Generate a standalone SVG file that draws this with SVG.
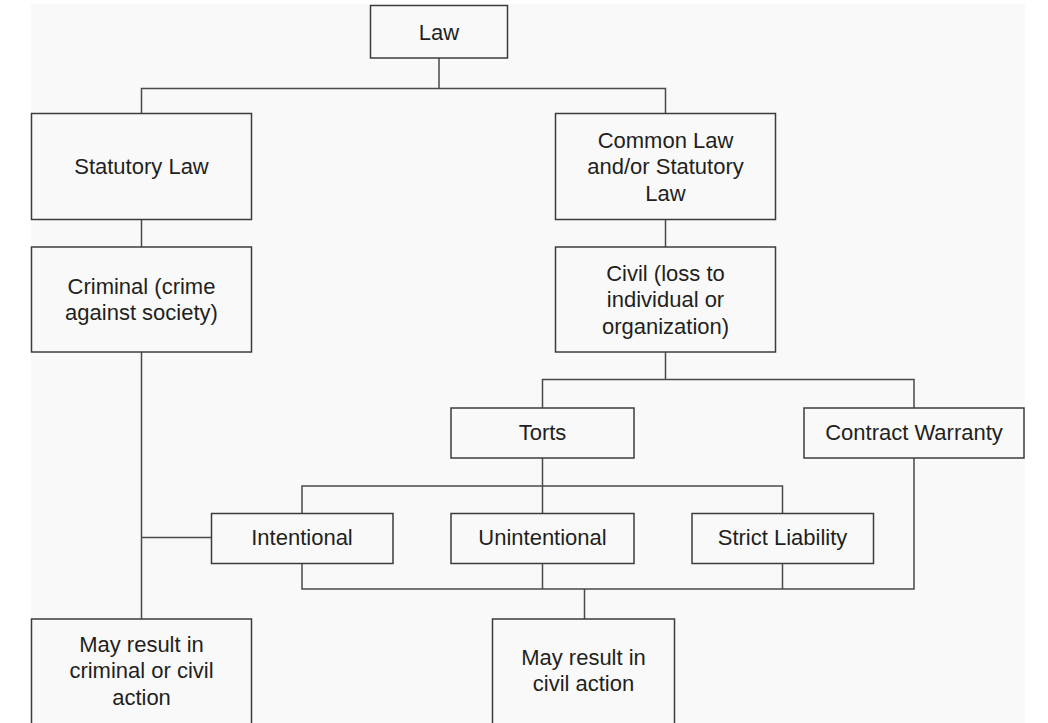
<svg xmlns="http://www.w3.org/2000/svg" width="1048" height="723" viewBox="0 0 1048 723">
<style>
.box{fill:#f9f9f9;stroke:#3c3c3c;stroke-width:1.5}
.lbl{font-family:"Liberation Sans",Arial,sans-serif;font-size:22px;fill:#231f20;text-anchor:middle}
.con{fill:none;stroke:#4a4a4a;stroke-width:1.5}
</style>
<rect x="0" y="0" width="1048" height="723" fill="#ffffff"/>
<rect x="31" y="4" width="994" height="719" fill="#f9f9f9"/>
<g id="connectors" class="con">
<path d="M439,58 V88.5 M141.5,113.5 V88.5 H665.5 V113.5"/>
<path d="M141.5,219.5 V247"/>
<path d="M665.5,219.5 V247"/>
<path d="M665.5,352 V379.5 M542.5,408 V379.5 H914 V408"/>
<path d="M542.5,458 V486 M302,513.5 V486 H782.5 V513.5 M542.5,486 V513.5"/>
<path d="M302,563.5 V589 H914 V458 M542.5,563.5 V589 M782.5,563.5 V589 M584.5,589 V619"/>
<path d="M141.5,352 V619 M141.5,537.5 H211.5"/>
</g>
<g id="law"><rect class="box" x="370.5" y="5.5" width="137" height="52.5"/><text class="lbl" x="439" y="39.5">Law</text></g>
<g id="statutory"><rect class="box" x="31.5" y="113.5" width="220" height="106"/><text class="lbl" x="141.5" y="174">Statutory Law</text></g>
<g id="criminal"><rect class="box" x="31.5" y="247" width="220" height="105"/><text class="lbl" x="141.5" y="293.5">Criminal (crime</text><text class="lbl" x="141.5" y="320">against society)</text></g>
<g id="common"><rect class="box" x="555.5" y="113.5" width="220" height="106"/><text class="lbl" x="665.5" y="147.5">Common Law</text><text class="lbl" x="665.5" y="174">and/or Statutory</text><text class="lbl" x="665.5" y="200.5">Law</text></g>
<g id="civil"><rect class="box" x="555.5" y="247" width="220" height="105"/><text class="lbl" x="665.5" y="281">Civil (loss to</text><text class="lbl" x="665.5" y="307">individual or</text><text class="lbl" x="665.5" y="333.5">organization)</text></g>
<g id="torts"><rect class="box" x="451" y="408" width="183" height="50"/><text class="lbl" x="542.5" y="440">Torts</text></g>
<g id="contract"><rect class="box" x="804" y="408" width="220" height="50"/><text class="lbl" x="914" y="440">Contract Warranty</text></g>
<g id="intentional"><rect class="box" x="211.5" y="513.5" width="181.5" height="50"/><text class="lbl" x="302" y="545">Intentional</text></g>
<g id="unintentional"><rect class="box" x="451" y="513.5" width="183" height="50"/><text class="lbl" x="542.5" y="545">Unintentional</text></g>
<g id="strict"><rect class="box" x="692" y="513.5" width="181.5" height="50"/><text class="lbl" x="782.5" y="545">Strict Liability</text></g>
<g id="result-criminal"><rect class="box" x="31.5" y="619" width="220" height="110"/><text class="lbl" x="141.5" y="652">May result in</text><text class="lbl" x="141.5" y="678">criminal or civil</text><text class="lbl" x="141.5" y="704.5">action</text></g>
<g id="result-civil"><rect class="box" x="492.5" y="619" width="182" height="110"/><text class="lbl" x="583.5" y="665">May result in</text><text class="lbl" x="583.5" y="691">civil action</text></g>
</svg>
